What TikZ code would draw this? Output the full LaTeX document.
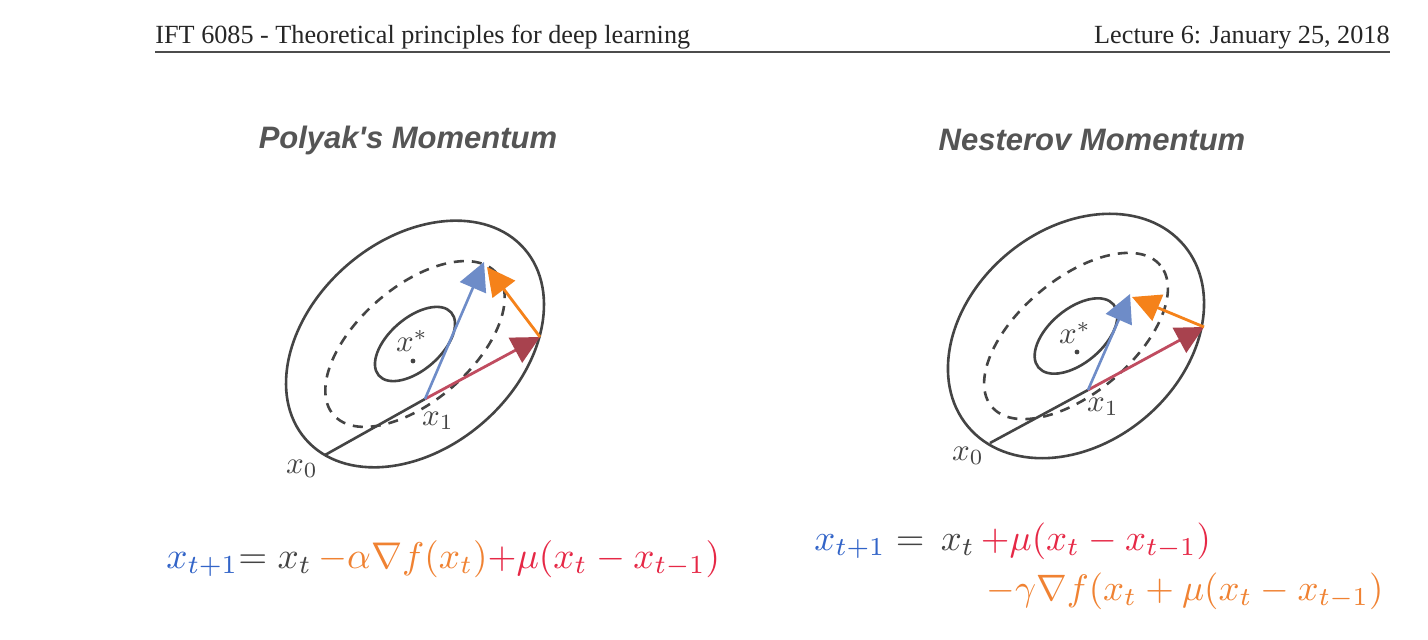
\documentclass[tikz,border=0pt]{standalone}
\usepackage[no-math]{fontspec}
\setmainfont{Liberation Serif}
\newfontfamily\titlefont{Liberation Sans}
\usetikzlibrary{arrows.meta}
\definecolor{cgray}{HTML}{444444}
\definecolor{ctitle}{HTML}{555555}
\definecolor{cblue}{HTML}{3264C8}
\definecolor{corange}{HTML}{F08232}
\definecolor{cred}{HTML}{E62846}
\definecolor{ablue}{HTML}{6E8CC8}
\definecolor{ared}{HTML}{C04C60}
\definecolor{aredh}{HTML}{A8424E}
\definecolor{aorange}{HTML}{F5821A}
\newcommand{\lbl}[1]{\scalebox{1.55}{$#1$}}
\newcommand{\eqn}[2]{\scalebox{#1}{$#2$}}
\tikzset{
  ell/.style={draw=cgray, line width=1.3pt},
  dashell/.style={draw=cgray, line width=1.3pt, dash pattern=on 5pt off 4pt},
  pathline/.style={draw=cgray, line width=1.3pt},
  bluearrow/.style={draw=ablue, line width=1.3pt, -{Triangle[length=14pt,width=14pt,fill=ablue]}},
  redarrow/.style={draw=ared, line width=1.4pt, -{Triangle[length=14pt,width=14pt,fill=aredh,color=aredh]}},
  orangearrow/.style={draw=aorange, line width=1.4pt, -{Triangle[length=14pt,width=14pt,fill=aorange]}},
  ptlabel/.style={text=cgray, inner sep=0pt},
  titlestyle/.style={text=ctitle, font=\titlefont\bfseries\itshape\fontsize{15.5}{18}\selectfont, inner sep=0pt},
  header/.style={text=black!85, font=\fontsize{13.1}{15}\selectfont, inner sep=0pt},
  formula/.style={inner sep=0pt},
  stardot/.style={circle, fill=cgray, inner sep=0pt, minimum size=2.4pt}
}
\begin{document}
\begin{tikzpicture}[x=0.5pt, y=-0.5pt]
\path[use as bounding box, fill=white] (0,0) rectangle (1428,640);

% header
\node[header, anchor=base west] (hl) at (155,44) {IFT 6085 - Theoretical principles for deep learning};
\node[header, anchor=base east] (hr) at (1390,44) {Lecture 6: January 25, 2018};
\coordinate (r1) at (155,52);
\coordinate (r2) at (1390,52);
\draw[line width=0.6pt, black!70] (r1) -- (r2);

% titles
\node[titlestyle] (tL) at (408,140) {Polyak's Momentum};
\node[titlestyle] (tR) at (1092,140) {Nesterov Momentum};

% ---------- left diagram ----------
\begin{scope}[shift={(415,344)}, rotate=41]
  \draw[ell] (0,0) ellipse [x radius=72.5pt, y radius=52pt];
  \draw[dashell] (0,0) ellipse [x radius=54pt, y radius=28.5pt];
  \draw[ell] (0,0) ellipse [x radius=24pt, y radius=13pt];
\end{scope}
\node[stardot] (sL) at (413,361) {};
\node[ptlabel] (sLl) at (412,341) {\lbl{x^*}};
\coordinate (x0L) at (325,455);
\coordinate (x1L) at (425,399);
\coordinate (rL) at (540,337);
\coordinate (oL) at (487,267);
\coordinate (bL) at (484,262);
\draw[pathline] (x0L) -- (x1L);
\draw[redarrow] (x1L) -- (rL);
\draw[orangearrow] (rL) -- (oL);
\draw[bluearrow] (x1L) -- (bL);
\node[ptlabel] (x1Ll) at (438,421) {\lbl{x_1}};
\node[ptlabel] (x0Ll) at (302,469) {\lbl{x_0}};

% ---------- right diagram ----------
\begin{scope}[shift={(1076,336)}, rotate=40]
  \draw[ell] (0,0) ellipse [x radius=70.5pt, y radius=53.5pt];
  \draw[dashell] (0,0) ellipse [x radius=55pt, y radius=28.5pt];
  \draw[ell] (0,0) ellipse [x radius=24.5pt, y radius=13.5pt];
\end{scope}
\node[stardot] (sR) at (1077,352) {};
\node[ptlabel] (sRl) at (1075,333) {\lbl{x^*}};
\coordinate (x0R) at (990,443);
\coordinate (x1R) at (1088,390);
\coordinate (rR) at (1204,327);
\coordinate (oR) at (1132,297);
\coordinate (bR) at (1130,294);
\draw[pathline] (x0R) -- (x1R);
\draw[redarrow] (x1R) -- (rR);
\draw[orangearrow] (rR) -- (oR);
\draw[bluearrow] (x1R) -- (bR);
\node[ptlabel] (x1Rl) at (1103,407) {\lbl{x_1}};
\node[ptlabel] (x0Rl) at (968,456) {\lbl{x_0}};

% formulas
\node[formula, anchor=base west] (eqL) at (166,568)
  {\eqn{1.86}{\color{cblue}x_{t+1}\color{cgray}{=}\;x_t\,\color{corange}{-}\alpha\nabla f(x_t)\color{cred}{+}\mu(x_t - x_{t-1})}};
\node[formula, anchor=base west] (eqR1) at (814,550)
  {\eqn{1.84}{\color{cblue}x_{t+1}\;\color{cgray}{=}\;\,x_t\,\color{cred}{+}\mu(x_t - x_{t-1})}};
\node[formula, anchor=base west] (eqR2) at (986,600)
  {\eqn{1.84}{\color{corange}{-}\gamma\nabla f(x_t + \mu(x_t - x_{t-1})}};
\end{tikzpicture}
\end{document}
